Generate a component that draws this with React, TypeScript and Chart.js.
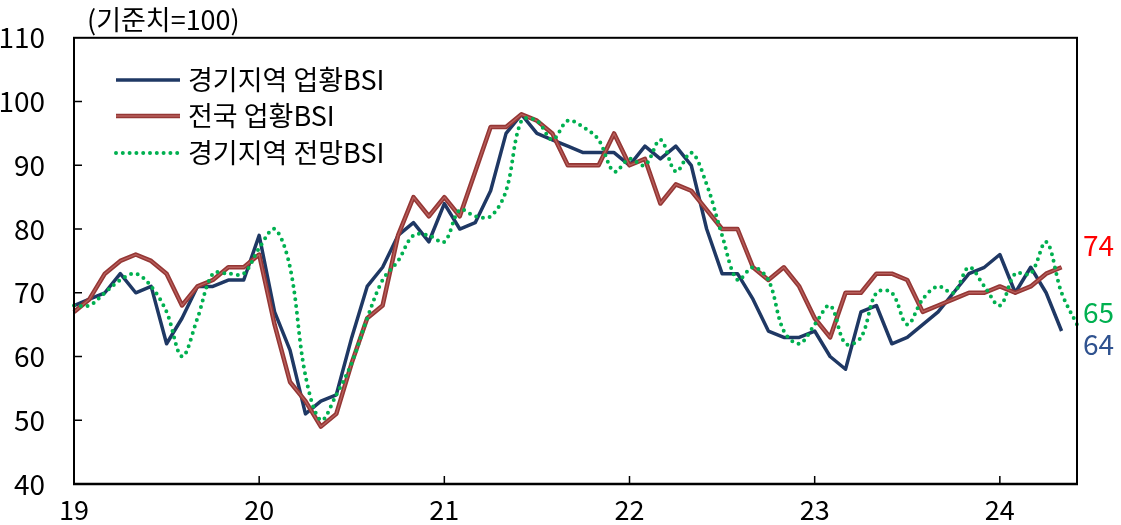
import React, { useEffect, useRef } from 'react';
import { Chart, registerables } from 'chart.js';

Chart.register(...registerables);

const FONT = "'Noto Sans CJK KR', 'Noto Sans', sans-serif";

// categories: monthly, Jan 2019 – Jun 2024
const years = [2019, 2020, 2021, 2022, 2023, 2024];
const monthLabels: string[] = years
  .flatMap((y) => Array.from({ length: 12 }, (_, m) => `${y}-${String(m + 1).padStart(2, '0')}`))
  .slice(0, 66);
const yearTickLabels = ['19', '20', '21', '22', '23', '24'];

const seriesNames = ['경기지역 업황BSI', '전국 업황BSI', '경기지역 전망BSI'];

const gyeonggiBSI = [
  68, 69, 70, 73, 70, 71, 62, 66, 71, 71, 72, 72,
  79, 67, 61, 51, 53, 54, 63, 71, 74, 79, 81, 78,
  84, 80, 81, 86, 95, 98, 95, 94, 93, 92, 92, 92,
  90, 93, 91, 93, 90, 80, 73, 73, 69, 64, 63, 63,
  64, 60, 58, 67, 68, 62, 63, 65, 67, 70, 73, 74,
  76, 70, 74, 70, 64,
];

const nationalBSI = [
  67, 69, 73, 75, 76, 75, 73, 68, 71, 72, 74, 74,
  76, 65, 56, 53, 49, 51, 59, 66, 68, 79, 85, 82,
  85, 82, 89, 96, 96, 98, 97, 95, 90, 90, 90, 95,
  90, 91, 84, 87, 86, 83, 80, 80, 74, 72, 74, 71,
  66, 63, 70, 70, 73, 73, 72, 67, 68, 69, 70, 70,
  71, 70, 71, 73, 74,
];

const gyeonggiOutlook = [
  68, 68, 70, 72, 73, 71, 67, 60, 66, 73, 73, 73,
  77, 80, 74, 57, 50, 54, 59, 66, 72, 75, 79, 79,
  78, 83, 82, 82, 86, 97, 97, 94, 97, 96, 94, 89,
  91, 90, 94, 89, 92, 87, 79, 72, 74, 72, 64, 62,
  65, 68, 62, 63, 70, 70, 65, 69, 71, 70, 74, 71,
  68, 73, 73, 78, 70, 65,
];

const yTicks = [40, 50, 60, 70, 80, 90, 100, 110];

const NAVY = '#1F3864';
const RED = '#953735';
const RED_CORE = '#B9605D';
const GREEN = '#00B050';

const endLabels = [
  { text: '74', color: '#FF0000', y: 245 },
  { text: '65', color: '#00B050', y: 312 },
  { text: '64', color: '#2F528F', y: 344 },
];

const decorPlugin = {
  id: 'decor',
  afterDatasetDraw(chart: any, args: any) {
    if (args.index !== 1) return;
    const { ctx } = chart;
    const pts = args.meta.data;
    ctx.save();
    ctx.beginPath();
    pts.forEach((p: any, i: number) => (i === 0 ? ctx.moveTo(p.x, p.y) : ctx.lineTo(p.x, p.y)));
    ctx.strokeStyle = RED_CORE;
    ctx.lineWidth = 1.3;
    ctx.lineJoin = 'round';
    ctx.stroke();
    ctx.restore();
  },
  afterDraw(chart: any) {
    const { ctx, chartArea: a, scales } = chart;
    ctx.save();
    // frame
    ctx.strokeStyle = '#000';
    ctx.lineWidth = 2;
    ctx.strokeRect(a.left, a.top, a.right - a.left, a.bottom - a.top);
    ctx.beginPath();
    ctx.lineWidth = 2.5;
    ctx.moveTo(a.left - 1, a.bottom);
    ctx.lineTo(a.right + 1, a.bottom);
    ctx.stroke();
    // inner ticks
    ctx.lineWidth = 1.5;
    ctx.beginPath();
    for (let i = 12; i < monthLabels.length; i += 12) {
      const px = scales.x.getPixelForValue(i);
      ctx.moveTo(px, a.bottom);
      ctx.lineTo(px, a.bottom - 8);
    }
    yTicks.slice(1, -1).forEach((v) => {
      const py = scales.y.getPixelForValue(v);
      ctx.moveTo(a.left, py);
      ctx.lineTo(a.left + 8, py);
    });
    ctx.stroke();

    // unit title
    ctx.fillStyle = '#000';
    ctx.font = `27px ${FONT}`;
    ctx.textAlign = 'left';
    ctx.textBaseline = 'middle';
    ctx.fillText('(기준치=100)', 87, 20);

    // legend
    const rows = [80, 116, 153];
    chart.data.datasets.forEach((ds: any, i: number) => {
      const y = rows[i];
      ctx.save();
      ctx.beginPath();
      ctx.moveTo(116, y);
      ctx.lineTo(180, y);
      ctx.strokeStyle = ds.borderColor;
      ctx.lineWidth = ds.borderWidth;
      ctx.lineCap = ds.borderCapStyle || 'butt';
      ctx.setLineDash(ds.borderDash || []);
      ctx.stroke();
      if (i === 1) {
        ctx.beginPath();
        ctx.moveTo(116, y);
        ctx.lineTo(180, y);
        ctx.strokeStyle = RED_CORE;
        ctx.lineWidth = 1.3;
        ctx.stroke();
      }
      ctx.restore();
      ctx.fillStyle = '#000';
      ctx.font = `27px ${FONT}`;
      ctx.textBaseline = 'middle';
      ctx.fillText(ds.label, 188, y);
    });

    // end labels
    ctx.font = `28px ${FONT}`;
    endLabels.forEach((l) => {
      ctx.fillStyle = l.color;
      ctx.fillText(l.text, 1083, l.y);
    });
    ctx.restore();
  },
};

export default function App() {
  const ref = useRef<HTMLCanvasElement>(null);

  useEffect(() => {
    document.body.style.margin = '0';
    const canvas = ref.current;
    if (!canvas) return;
    const chart = new Chart(canvas, {
      type: 'line',
      data: {
        labels: monthLabels,
        datasets: [
          {
            label: seriesNames[0],
            data: gyeonggiBSI,
            borderColor: NAVY,
            borderWidth: 3.5,
            pointRadius: 0,
            tension: 0,
            order: 3,
          },
          {
            label: seriesNames[1],
            data: nationalBSI,
            borderColor: RED,
            borderWidth: 4.5,
            pointRadius: 0,
            tension: 0,
            order: 2,
          },
          {
            label: seriesNames[2],
            data: gyeonggiOutlook,
            borderColor: GREEN,
            borderWidth: 4,
            borderDash: [0, 6.8],
            borderCapStyle: 'round',
            pointRadius: 0,
            tension: 0.35,
            order: 1,
          },
        ],
      },
      options: {
        responsive: false,
        animation: false,
        layout: { padding: { top: 36, right: 44, left: 0, bottom: 0 } },
        plugins: {
          legend: { display: false },
          tooltip: { enabled: false },
          title: { display: false },
        },
        elements: { line: { borderJoinStyle: 'round' } },
        scales: {
          x: {
            type: 'category',
            offset: false,
            grid: { display: false },
            border: { display: false },
            ticks: {
              autoSkip: false,
              maxRotation: 0,
              minRotation: 0,
              padding: 2,
              color: '#000',
              font: { family: FONT, size: 27 },
              callback: (_v: any, i: number) => (i % 12 === 0 ? yearTickLabels[i / 12] : ''),
            },
            afterFit: (s: any) => {
              s.height = 41;
            },
          },
          y: {
            min: 40,
            max: 110,
            grid: { display: false },
            border: { display: false },
            afterBuildTicks: (s: any) => {
              s.ticks = yTicks.map((v) => ({ value: v }));
            },
            ticks: {
              padding: 21,
              color: '#000',
              font: { family: FONT, size: 28 },
            },
            afterFit: (s: any) => {
              s.width = 74;
            },
          },
        },
      },
      plugins: [decorPlugin],
    } as any);
    return () => chart.destroy();
  }, []);

  return (
    <div style={{ width: 1121, height: 525 }}>
      <canvas ref={ref} width={1121} height={525} style={{ display: 'block' }} />
    </div>
  );
}
